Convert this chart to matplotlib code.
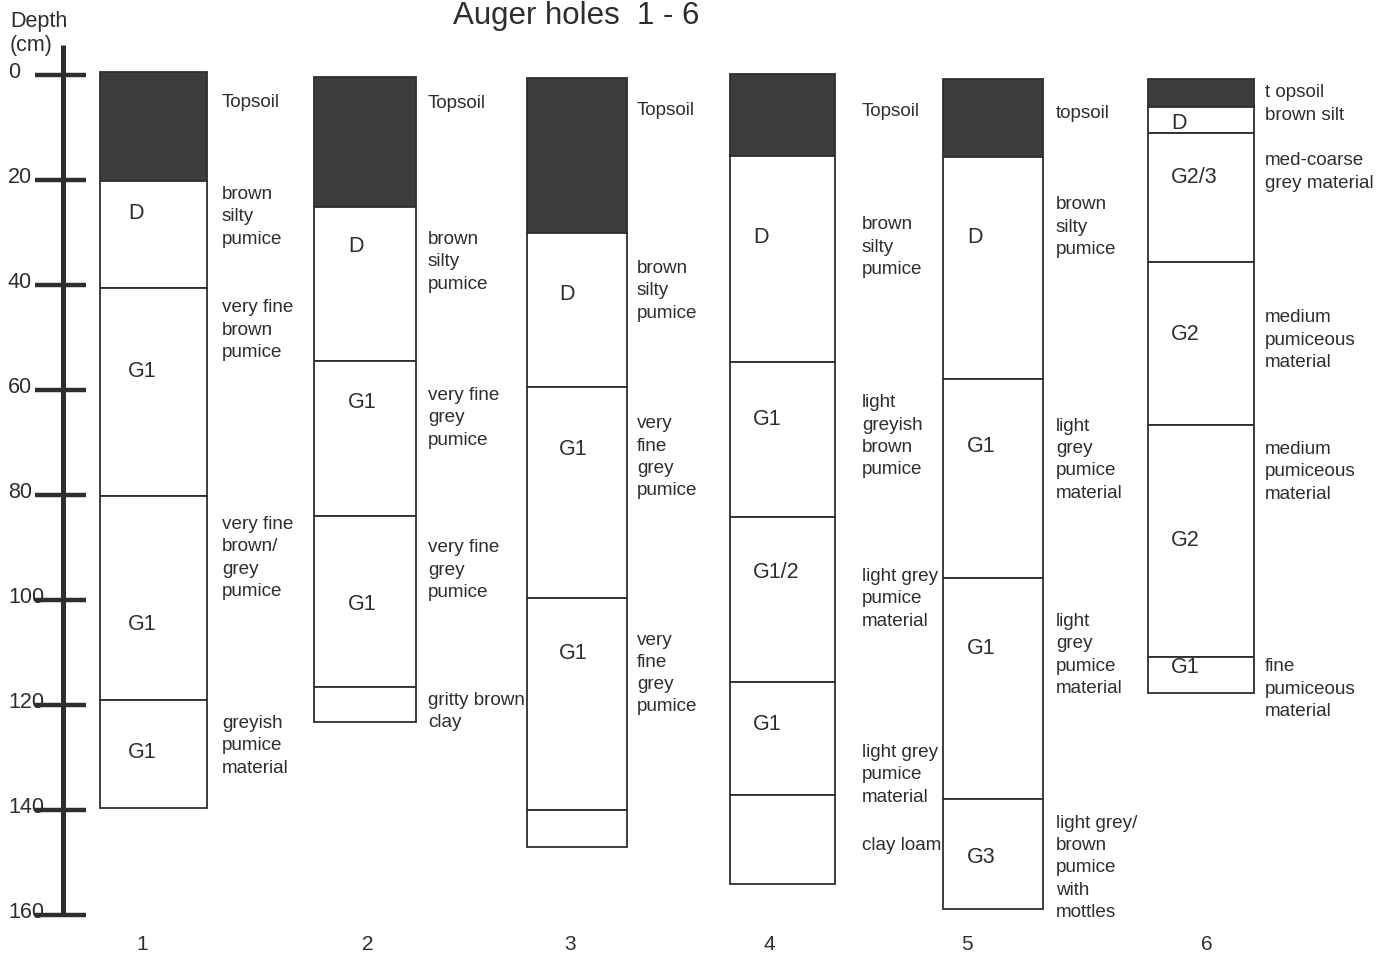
import matplotlib
matplotlib.use("Agg")
import matplotlib.pyplot as plt

plt.rcParams['font.family'] = ['Liberation Sans', 'DejaVu Sans']

INK = '#2e2e2e'
TOPSOIL = '#3c3c3c'

# ---------------- data ----------------
title = 'Auger holes  1 - 6'
hole_labels = ['1', '2', '3', '4', '5', '6']
depth_ticks = [0, 20, 40, 60, 80, 100, 120, 140, 160]

hole1_bounds = [-0.6, 20.2, 40.6, 80.2, 119.0, 139.6]
hole1_codes = ['', 'D', 'G1', 'G1', 'G1']
hole1_code_depth = [None, 26.3, 56.4, 104.6, 129.1]
hole1_desc = ['Topsoil', 'brown\nsilty\npumice', 'very fine\nbrown\npumice',
              'very fine\nbrown/\ngrey\npumice', 'greyish\npumice\nmaterial']
hole1_desc_depth = [5.3, 27.0, 48.6, 92.0, 127.8]

hole2_bounds = [0.4, 25.1, 54.5, 84.0, 116.6, 123.2]
hole2_codes = ['', 'D', 'G1', 'G1', '']
hole2_code_depth = [None, 32.6, 62.3, 100.8, None]
hole2_desc = ['Topsoil', 'brown\nsilty\npumice', 'very fine\ngrey\npumice',
              'very fine\ngrey\npumice', 'gritty brown\nclay']
hole2_desc_depth = [5.5, 35.6, 65.3, 94.3, 121.3]

hole3_bounds = [0.6, 30.1, 59.4, 99.6, 140.0, 147.0]
hole3_codes = ['', 'D', 'G1', 'G1', '']
hole3_code_depth = [None, 41.9, 71.4, 110.1, None]
hole3_desc = ['Topsoil', 'brown\nsilty\npumice', 'very\nfine\ngrey\npumice',
              'very\nfine\ngrey\npumice', '']
hole3_desc_depth = [6.7, 41.1, 72.8, 114.0, None]

hole4_bounds = [-0.2, 15.4, 54.7, 84.2, 115.6, 137.1, 154.1]
hole4_codes = ['', 'D', 'G1', 'G1/2', 'G1', '']
hole4_code_depth = [None, 31.0, 65.7, 94.7, 123.8, None]
hole4_desc = ['Topsoil', 'brown\nsilty\npumice', 'light\ngreyish\nbrown\npumice',
              'light grey\npumice\nmaterial', 'light grey\npumice\nmaterial', 'clay loam']
hole4_desc_depth = [6.9, 32.8, 68.8, 99.8, 133.3, 146.7]

hole5_bounds = [0.8, 15.6, 57.9, 95.8, 137.9, 158.9]
hole5_codes = ['', 'D', 'G1', 'G1', 'G3']
hole5_code_depth = [None, 31.0, 70.7, 109.3, 149.1]
hole5_desc = ['topsoil', 'brown\nsilty\npumice', 'light\ngrey\npumice\nmaterial',
              'light\ngrey\npumice\nmaterial', 'light grey/\nbrown\npumice\nwith\nmottles']
hole5_desc_depth = [7.4, 29.0, 73.3, 110.5, 151.0]

hole6_bounds = [0.8, 6.1, 11.0, 35.6, 66.7, 110.9, 117.7]
hole6_codes = ['', 'D', 'G2/3', 'G2', 'G2', 'G1']
hole6_code_depth = [None, 9.3, 19.6, 49.5, 88.6, 112.8]
hole6_desc = ['t opsoil', 'brown silt', 'med-coarse\ngrey material',
              'medium\npumiceous\nmaterial', 'medium\npumiceous\nmaterial',
              'fine\npumiceous\nmaterial']
hole6_desc_depth = [3.4, 7.8, 18.5, 50.5, 75.6, 117.0]

holes = [
    (hole1_bounds, hole1_codes, hole1_code_depth, hole1_desc, hole1_desc_depth),
    (hole2_bounds, hole2_codes, hole2_code_depth, hole2_desc, hole2_desc_depth),
    (hole3_bounds, hole3_codes, hole3_code_depth, hole3_desc, hole3_desc_depth),
    (hole4_bounds, hole4_codes, hole4_code_depth, hole4_desc, hole4_desc_depth),
    (hole5_bounds, hole5_codes, hole5_code_depth, hole5_desc, hole5_desc_depth),
    (hole6_bounds, hole6_codes, hole6_code_depth, hole6_desc, hole6_desc_depth),
]

# ---------------- layout ----------------
W, H = 1383, 955
hole_left = [100, 314, 527, 730, 943, 1148]
hole_width = [107, 102, 100, 105, 100, 106]
code_x = [128, 348, 559, 753, 967, 1171]
desc_x = [222, 428, 637, 862, 1056, 1265]
number_x = [142, 368, 570, 769, 967, 1207]
PX0, PXCM = 75.0, 5.25  # pixel row of depth 0, pixels per cm


def d(py):
    return (py - PX0) / PXCM


fig = plt.figure(figsize=(W / 100, H / 100), dpi=100)
ax = fig.add_axes([0, 0, 1, 1])
ax.set_xlim(0, W)
ax.set_ylim(d(H), d(0))
ax.axis('off')

# depth scale
bar_x = 63
ax.plot([bar_x, bar_x], [d(45), depth_ticks[-1]], color=INK, lw=3.6,
        solid_capstyle='butt')
for t in depth_ticks:
    ax.plot([35, 86], [t, t], color=INK, lw=3.2, solid_capstyle='butt')
    ax.text(8, t + 0.55, str(t), ha='left', va='baseline', fontsize=15.5, color=INK)
ax.text(10, d(11), 'Depth\n(cm)', ha='left', va='top', fontsize=15.5,
        color=INK, linespacing=1.2)

ax.text(576, d(16), title, ha='center', va='center', fontsize=22.5, color=INK)

# holes
for i, (bounds, codes, cdep, desc, ddep) in enumerate(holes):
    tops = bounds[:-1]
    heights = [b - a for a, b in zip(bounds[:-1], bounds[1:])]
    colors = [TOPSOIL] + ['white'] * (len(tops) - 1)
    ax.bar([hole_left[i]] * len(tops), heights, bottom=tops, width=hole_width[i],
           align='edge', color=colors, edgecolor=INK, linewidth=1.3)
    for c, cd in zip(codes, cdep):
        if c and cd is not None:
            ax.text(code_x[i], cd, c, ha='left', va='center', fontsize=15.5,
                    color=INK)
    for txt, dd in zip(desc, ddep):
        if txt and dd is not None:
            ax.text(desc_x[i], dd, txt, ha='left', va='center', fontsize=13.6,
                    color=INK, linespacing=1.41)
    ax.text(number_x[i], d(944), hole_labels[i], ha='center', va='center',
            fontsize=15, color=INK)

fig.savefig('out.png', dpi=100, facecolor='white')
